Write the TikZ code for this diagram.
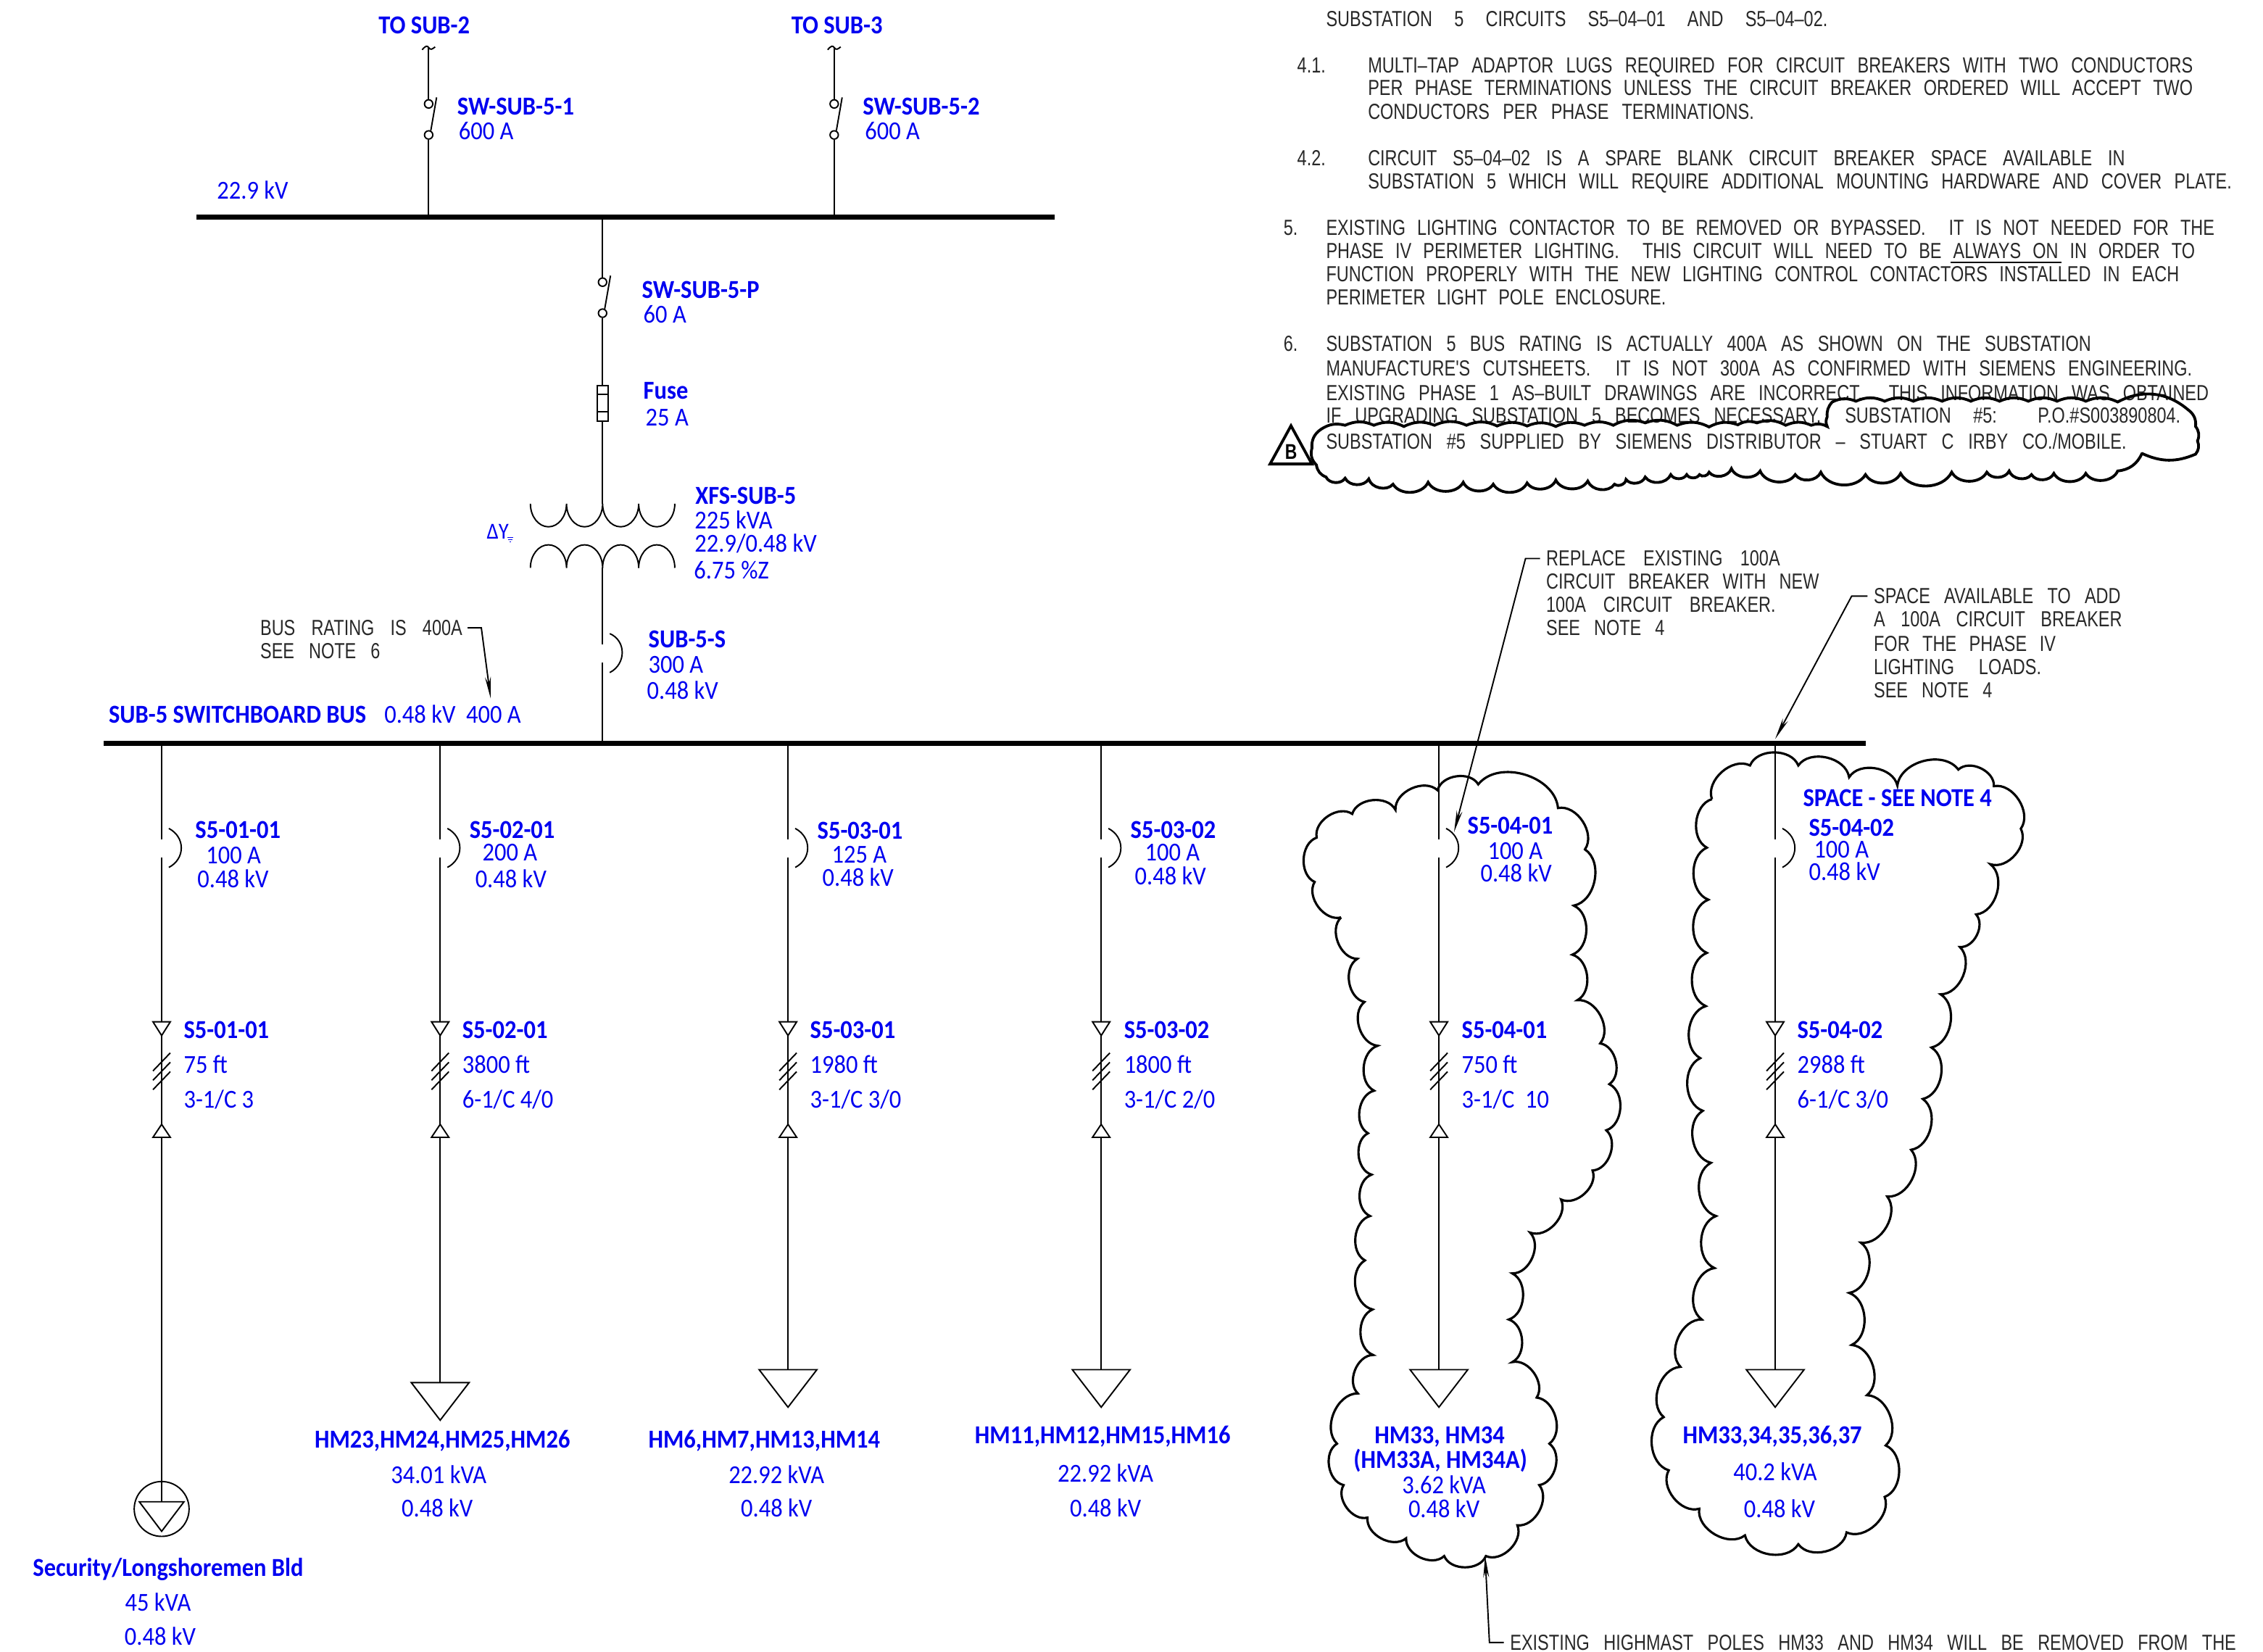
\documentclass[tikz,border=0pt]{standalone}
\usepackage{fontspec}
\usetikzlibrary{arrows.meta}
\newfontfamily\blu[FakeStretch=0.91]{Carlito}
\newfontfamily\cadf[FakeStretch=0.78]{Liberation Sans}
\definecolor{lblue}{RGB}{0,0,240}
\definecolor{cadk}{RGB}{40,40,40}
\newdimen\pxu \pxu=.01cm
\tikzset{
  x=.01cm,y=-.01cm,
  wire/.style={line width=.55pt,black,line cap=butt},
  busbar/.style={line width=2pt,black},
  lbl/.style={font=\blu\fontsize{10.2pt}{12pt}\selectfont,text=lblue,inner sep=0pt},
  cad/.style={font=\cadf\fontsize{8.6pt}{10pt}\selectfont,text=cadk,inner sep=0pt,anchor=base west},
  swc/.style={circle,draw,line width=.55pt,inner sep=0pt,minimum size=.115cm},
  cloudA/.style={line width=.9pt,every to/.style={bend left=68}},
  cloudT/.style={line width=1.1pt,line cap=round,every to/.style={bend left=24}},
  cloudB/.style={line width=1.1pt,line cap=round,every to/.style={bend left=62}},
  lead/.style={wire,-{Stealth[length=.3cm,width=.08cm]}}
}
\newcommand\lb[4]{\node[lbl,anchor=base west] (#1) at (#2,{#3+12}) {#4};}
\newcommand\lbb[4]{\node[lbl,anchor=base west] (#1) at (#2,{#3+12}) {\bfseries #4};}
\newcommand\lc[4]{\node[lbl,anchor=base] (#1) at (#2,{#3+12}) {#4};}
\newcommand\lcb[4]{\node[lbl,anchor=base] (#1) at (#2,{#3+12}) {\bfseries #4};}
\newcommand\cadl[5]{\node[cad] (#1) at (#2,{#4+10.5}) {\makebox[\numexpr#3-#2\relax\pxu][s]{#5}};}
\newcommand\cadp[4]{\node[cad] (#1) at (#2,{#3+10.5}) {#4};}
\newcommand\swt[4]{%
  \node[swc] (#1-u) at (#2,#3) {};
  \node[swc] (#1-l) at (#2,#4) {};
  \draw[wire] ({#2+3},{#4-6}) -- ({#2+11},{#3-9});
}
\newcommand\feeder[3]{%
  \coordinate (#1-t) at (#2,1030);
  \coordinate (#1-a) at (#2,1163);
  \coordinate (#1-b) at (#2,1188);
  \coordinate (#1-c) at (#2,1416);
  \coordinate (#1-d) at (#2,1435);
  \coordinate (#1-e) at (#2,1558);
  \coordinate (#1-f) at (#2,1576);
  \coordinate (#1-g) at (#2,#3);
  \draw[wire] (#1-t)--(#1-a) (#1-b)--(#1-c) (#1-d)--(#1-e) (#1-f)--(#1-g);
  \draw[wire] ({#2+10},1148) .. controls ({#2+33},1160) and ({#2+33},1190) .. ({#2+10},1202);
  \draw[wire] ({#2-12},1416)--({#2+12},1416)--(#1-d)--cycle;
  \draw[wire] ({#2-12},1576)--({#2+12},1576)--(#1-e)--cycle;
  \draw[wire] ({#2-12},1484)--({#2+12},1459) ({#2-12},1497)--({#2+12},1472) ({#2-12},1510)--({#2+12},1485);
}
\newcommand\loadtri[2]{%
  \draw[wire] ({#1-40},#2)--({#1+40},#2)--(#1,{#2+52})--cycle;
}
\begin{document}
\begin{tikzpicture}
\useasboundingbox (0,0) rectangle (3136,2289);
\fill[white] (0,0) rectangle (3136,2289);

% --- upper bus and incoming switches
\coordinate (b1l) at (272,301);
\coordinate (b1r) at (1462,301);
\draw[busbar] (b1l) -- (b1r);
\coordinate (t1) at (594,66);
\coordinate (t2) at (1156,66);
\coordinate (j1) at (594,301);
\coordinate (j2) at (1156,301);
\coordinate (j3) at (835,301);
\swt{s1}{594}{144}{187}
\swt{s2}{1156}{144}{187}
\swt{sp}{835}{391}{434}
\draw[wire] (t1)--(s1-u) (s1-l)--(j1);
\draw[wire] (t2)--(s2-u) (s2-l)--(j2);
\draw[wire] (585,69) .. controls (590,63) and (592,63) .. (594,66) .. controls (597,70) and (599,68) .. (603,65);
\draw[wire] (1147,69) .. controls (1152,63) and (1154,63) .. (1156,66) .. controls (1159,70) and (1161,68) .. (1165,65);
\draw[wire] (j3)--(sp-u);

% fuse
\node[draw,line width=.55pt,minimum width=.15cm,minimum height=.5cm,inner sep=0pt] (fuse) at (835,559) {};
\draw[wire] (827,546)--(843,546) (827,571)--(843,571);
\draw[wire] (sp-l)--(fuse.north);

% transformer
\coordinate (xu) at (835,698);
\coordinate (xl) at (835,787);
\draw[wire] (fuse.south)--(xu);
\draw[wire] (735,698) arc[start angle=180,end angle=360,x radius=.25cm,y radius=.32cm]
                      arc[start angle=180,end angle=360,x radius=.25cm,y radius=.32cm]
                      arc[start angle=180,end angle=360,x radius=.25cm,y radius=.32cm]
                      arc[start angle=180,end angle=360,x radius=.25cm,y radius=.32cm];
\draw[wire] (735,787) arc[start angle=180,end angle=0,x radius=.25cm,y radius=.32cm]
                      arc[start angle=180,end angle=0,x radius=.25cm,y radius=.32cm]
                      arc[start angle=180,end angle=0,x radius=.25cm,y radius=.32cm]
                      arc[start angle=180,end angle=0,x radius=.25cm,y radius=.32cm];
\coordinate (sa) at (835,893);
\coordinate (sb) at (835,918);
\coordinate (b2j) at (835,1030);
\draw[wire] (xl)--(sa) (sb)--(b2j);
\draw[wire] (845,878) .. controls (868,888) and (868,920) .. (845,932);

% --- lower bus
\coordinate (b2l) at (144,1030);
\coordinate (b2r) at (2586,1030);
\draw[busbar] (b2l) -- (b2r);

% feeders
\feeder{f1}{224}{2081}
\feeder{f2}{610}{1916}
\feeder{f3}{1092}{1898}
\feeder{f4}{1526}{1898}
\feeder{f5}{1994}{1898}
\feeder{f6}{2460}{1898}
\node[circle,draw,line width=.55pt,minimum size=.76cm,inner sep=0pt] (sec) at (224,2091) {};
\draw[wire] (193,2081)--(255,2081)--(224,2122)--cycle;
\loadtri{610}{1916}
\loadtri{1092}{1898}
\loadtri{1526}{1898}
\loadtri{1994}{1898}
\loadtri{2460}{1898}

% --- blue labels, top
\lbb{lt2}{524}{35}{TO SUB-2}
\lbb{lt3}{1096}{35}{TO SUB-3}
\lbb{ls1}{633}{147}{SW-SUB-5-1}
\lb{ls1a}{635}{181}{600 A}
\lbb{ls2}{1195}{147}{SW-SUB-5-2}
\lb{ls2a}{1198}{181}{600 A}
\lb{lkv}{300}{264}{22.9 kV}
\lbb{lsp}{889}{401}{SW-SUB-5-P}
\lb{lspa}{891}{436}{60 A}
\lbb{lfu}{891}{541}{Fuse}
\lb{lfua}{894}{578}{25 A}
\lbb{lxf}{963}{687}{XFS-SUB-5}
\lb{lxf1}{962}{721}{225 kVA}
\lb{lxf2}{962}{753}{22.9/0.48 kV}
\lb{lxf3}{961}{790}{6.75 \%Z}
\node[lbl,anchor=base west,font=\blu\fontsize{9pt}{10pt}\selectfont] (ldy) at (674,747) {ΔY};
\draw[lblue,line width=.4pt] (703,745)--(711,745) (704,748)--(710,748) (706,751)--(708,751);
\lbb{ls5}{898}{886}{SUB-5-S}
\lb{ls5a}{898}{921}{300 A}
\lb{ls5b}{896}{957}{0.48 kV}
\lbb{lbus}{150}{990}{SUB-5 SWITCHBOARD BUS}
\lb{lbus2}{532}{990}{0.48 kV\ \ 400 A}

% --- breaker and cable labels
\lbb{a1}{270}{1150}{S5-01-01}
\lb{a1a}{285}{1185}{100 A}
\lb{a1b}{273}{1218}{0.48 kV}
\lbb{c1}{254}{1427}{S5-01-01}
\lb{c1a}{254}{1475}{75 ft}
\lb{c1b}{254}{1523}{3-1/C 3}

\lbb{a2}{650}{1150}{S5-02-01}
\lb{a2a}{668}{1181}{200 A}
\lb{a2b}{658}{1218}{0.48 kV}
\lbb{c2}{640}{1427}{S5-02-01}
\lb{c2a}{640}{1475}{3800 ft}
\lb{c2b}{640}{1523}{6-1/C 4/0}

\lbb{a3}{1132}{1151}{S5-03-01}
\lb{a3a}{1152}{1184}{125 A}
\lb{a3b}{1139}{1216}{0.48 kV}
\lbb{c3}{1122}{1427}{S5-03-01}
\lb{c3a}{1122}{1475}{1980 ft}
\lb{c3b}{1122}{1523}{3-1/C 3/0}

\lbb{a4}{1566}{1150}{S5-03-02}
\lb{a4a}{1586}{1181}{100 A}
\lb{a4b}{1572}{1214}{0.48 kV}
\lbb{c4}{1557}{1427}{S5-03-02}
\lb{c4a}{1557}{1475}{1800 ft}
\lb{c4b}{1557}{1523}{3-1/C 2/0}

\lbb{a5}{2033}{1144}{S5-04-01}
\lb{a5a}{2061}{1179}{100 A}
\lb{a5b}{2051}{1210}{0.48 kV}
\lbb{c5}{2025}{1427}{S5-04-01}
\lb{c5a}{2025}{1475}{750 ft}
\lb{c5b}{2025}{1523}{3-1/C\ \ 10}

\lbb{sp6}{2498}{1105}{SPACE - SEE NOTE 4}
\lbb{a6}{2506}{1147}{S5-04-02}
\lb{a6a}{2513}{1177}{100 A}
\lb{a6b}{2506}{1208}{0.48 kV}
\lbb{c6}{2490}{1427}{S5-04-02}
\lb{c6a}{2490}{1475}{2988 ft}
\lb{c6b}{2490}{1523}{6-1/C 3/0}

% --- load labels
\lcb{d1}{233}{2172}{Security/Longshoremen Bld}
\lc{d1a}{219}{2220}{45 kVA}
\lc{d1b}{222}{2268}{0.48 kV}
\lcb{d2}{613}{1994}{HM23,HM24,HM25,HM26}
\lc{d2a}{608}{2044}{34.01 kVA}
\lc{d2b}{606}{2090}{0.48 kV}
\lcb{d3}{1059}{1994}{HM6,HM7,HM13,HM14}
\lc{d3a}{1076}{2044}{22.92 kVA}
\lc{d3b}{1076}{2090}{0.48 kV}
\lcb{d4}{1528}{1988}{HM11,HM12,HM15,HM16}
\lc{d4a}{1532}{2042}{22.92 kVA}
\lc{d4b}{1532}{2090}{0.48 kV}
\lcb{d5}{1995}{1988}{HM33, HM34}
\lcb{d5x}{1996}{2023}{(HM33A, HM34A)}
\lc{d5a}{2001}{2058}{3.62 kVA}
\lc{d5b}{2001}{2091}{0.48 kV}
\lcb{d6}{2456}{1988}{HM33,34,35,36,37}
\lc{d6a}{2460}{2040}{40.2 kVA}
\lc{d6b}{2466}{2091}{0.48 kV}

% --- CAD notes
\cadl{n1}{1837}{2532}{26}{SUBSTATION 5 CIRCUITS S5–04–01 AND S5–04–02.}
\cadp{n2}{1797}{90}{4.1.}
\cadl{n3}{1895}{3038}{90}{MULTI–TAP ADAPTOR LUGS REQUIRED FOR CIRCUIT BREAKERS WITH TWO CONDUCTORS}
\cadl{n4}{1895}{3038}{122}{PER PHASE TERMINATIONS UNLESS THE CIRCUIT BREAKER ORDERED WILL ACCEPT TWO}
\cadl{n5}{1895}{2430}{155}{CONDUCTORS PER PHASE TERMINATIONS.}
\cadp{n6}{1797}{219}{4.2.}
\cadl{n7}{1895}{2944}{219}{CIRCUIT S5–04–02 IS A SPARE BLANK CIRCUIT BREAKER SPACE AVAILABLE IN}
\cadl{n8}{1895}{3092}{251}{SUBSTATION 5 WHICH WILL REQUIRE ADDITIONAL MOUNTING HARDWARE AND COVER PLATE.}
\cadp{n9}{1778}{315}{5.}
\cadl{n10}{1837}{3068}{315}{EXISTING LIGHTING CONTACTOR TO BE REMOVED OR BYPASSED.\ \ IT IS NOT NEEDED FOR THE}
\cadl{n11}{1837}{3041}{348}{PHASE IV PERIMETER LIGHTING.\ \ THIS CIRCUIT WILL NEED TO BE ALWAYS ON IN ORDER TO}
\draw[wire] (n11.base west) ++(866,5) --++ (154,0);
\cadl{n12}{1837}{3019}{380}{FUNCTION PROPERLY WITH THE NEW LIGHTING CONTROL CONTACTORS INSTALLED IN EACH}
\cadl{n13}{1837}{2308}{412}{PERIMETER LIGHT POLE ENCLOSURE.}
\cadp{n14}{1778}{476}{6.}
\cadl{n15}{1837}{2897}{476}{SUBSTATION 5 BUS RATING IS ACTUALLY 400A AS SHOWN ON THE SUBSTATION}
\cadl{n16}{1837}{3037}{510}{MANUFACTURE'S CUTSHEETS.\ \ IT IS NOT 300A AS CONFIRMED WITH SIEMENS ENGINEERING.}
\cadl{n17}{1837}{3060}{544}{EXISTING PHASE 1 AS–BUILT DRAWINGS ARE INCORRECT.\ \ THIS INFORMATION WAS OBTAINED}
\cadl{n18}{1837}{2523}{576}{IF UPGRADING SUBSTATION 5 BECOMES NECESSARY.}
\cadl{n19}{2556}{3021}{576}{SUBSTATION \#5: P.O.\#S003890804.}
\cadl{n20}{1837}{2946}{612}{SUBSTATION \#5 SUPPLIED BY SIEMENS DISTRIBUTOR – STUART C IRBY CO./MOBILE.}

% callouts
\cadl{m1}{360}{640}{870}{BUS RATING IS 400A}
\cadl{m2}{360}{526}{902}{SEE NOTE 6}
\coordinate (m1b) at (667,870);
\coordinate (m1t) at (680,968);
\draw[lead] (648,870) -- (m1b) -- (m1t);

\cadl{r1}{2142}{2466}{774}{REPLACE EXISTING 100A}
\cadl{r2}{2142}{2520}{806}{CIRCUIT BREAKER WITH NEW}
\cadl{r3}{2142}{2460}{838}{100A CIRCUIT BREAKER.}
\cadl{r4}{2142}{2306}{870}{SEE NOTE 4}
\coordinate (r1b) at (2114,774);
\coordinate (r1t) at (2015,1153);
\draw[lead] (2134,774) -- (r1b) -- (r1t);

\cadl{q1}{2596}{2938}{826}{SPACE AVAILABLE TO ADD}
\cadl{q2}{2596}{2940}{858}{A 100A CIRCUIT BREAKER}
\cadl{q3}{2596}{2848}{892}{FOR THE PHASE IV}
\cadl{q4}{2596}{2828}{924}{LIGHTING LOADS.}
\cadl{q5}{2596}{2760}{956}{SEE NOTE 4}
\coordinate (q1b) at (2566,826);
\coordinate (q1t) at (2460,1024);
\draw[lead] (2588,826) -- (q1b) -- (q1t);

\cadl{e1}{2092}{3098}{2276}{EXISTING HIGHMAST POLES HM33 AND HM34 WILL BE REMOVED FROM THE}
\coordinate (e1b) at (2064,2276);
\coordinate (e1t) at (2058,2156);
\draw[lead] (2084,2276) -- (e1b) -- (e1t);

% B triangle
\draw[line width=1.1pt] (1789,590)--(1818,643)--(1760,643)--cycle;
\node[font=\cadf\bfseries\fontsize{8.4pt}{9pt}\selectfont,inner sep=0pt] (revb) at (1789,626) {B};

% cloud around S5-04-01 (zoom coordinates)
\begin{scope}[shift={(1788,1005)},x=.01cm/1.42,y=-.01cm/1.22]
\draw[cloudA] (100,325) to (48,265) to (52,190) to (122,150) to (207,143) to (290,110) to (370,100) to (527,140) to (580,210) to (558,305) to (555,388) to (565,465) to (610,538) to (628,607) to (622,685) to (595,753) to (533,802) to (472,858) to (437,927) to (430,1005) to (437,1077) to (485,1137) to (510,1215) to (490,1285) to (447,1353) to (385,1405) to (303,1405) to (228,1375) to (152,1340) to (105,1285) to (92,1215) to (133,1130) to (163,1065) to (162,988) to (147,905) to (157,830) to (160,760) to (153,690) to (165,618) to (172,542) to (146,468) to (132,395) to (100,325);
% cloud around S5-04-02
\draw[cloudA] (830,125) to (905,68) to (1000,68) to (1100,88) to (1195,102) to (1315,75) to (1385,103) to (1438,175) to (1378,235) to (1350,320) to (1318,375) to (1280,455) to (1262,545) to (1245,632) to (1222,718) to (1175,797) to (1123,875) to (1100,960) to (1105,1048) to (1135,1133) to (1172,1218) to (1170,1305) to (1095,1365) to (1000,1385) to (895,1370) to (805,1325) to (745,1260) to (735,1170) to (768,1085) to (810,1005) to (835,918) to (838,830) to (828,740) to (812,652) to (807,563) to (818,475) to (820,385) to (823,295) to (820,207) to (830,125);
\end{scope}

% revision cloud (zoom coordinates)
\begin{scope}[shift={(1749,521)},x=.01cm/1.13,y=-.01cm/3]
\draw[cloudT] (92,222) to (130,205) to (175,205) to (222,210) to (270,205) to (320,205) to (368,208) to (415,208) to (460,210) to (505,205) to (550,205) to (600,195) to (650,205) to (700,212) to (745,203) to (775,195) to (820,205) to (860,205) to (885,210) to (885,170) to (893,108) to (930,105) to (975,105) to (1020,105) to (1065,105) to (1110,105) to (1155,105) to (1200,105) to (1245,105) to (1290,105) to (1340,108) to[bend left=34] (1450,140) to[bend left=30] (1462,210) to[bend left=30] (1465,270) to[bend left=30] (1462,325) to[bend left=24] (1378,322);
\draw[cloudB] (1378,322) to[bend left=30] (1340,395) to (1290,405) to (1240,405) to (1205,410) to (1170,395) to (1135,400) to (1080,400) to (1000,405) to (945,410) to (875,400) to (835,410) to (780,395) to (735,385) to (700,400) to (685,410) to (665,410) to (640,410) to (600,420) to (570,430) to (552,450) to (510,437) to (460,433) to (415,445) to (362,450) to (315,442) to (260,442) to (205,450) to (167,428) to (130,425) to (100,420) to[bend left=30] (85,370) to[bend left=30] (78,300) to[bend left=30] (92,222);
\end{scope}
\end{tikzpicture}
\end{document}
